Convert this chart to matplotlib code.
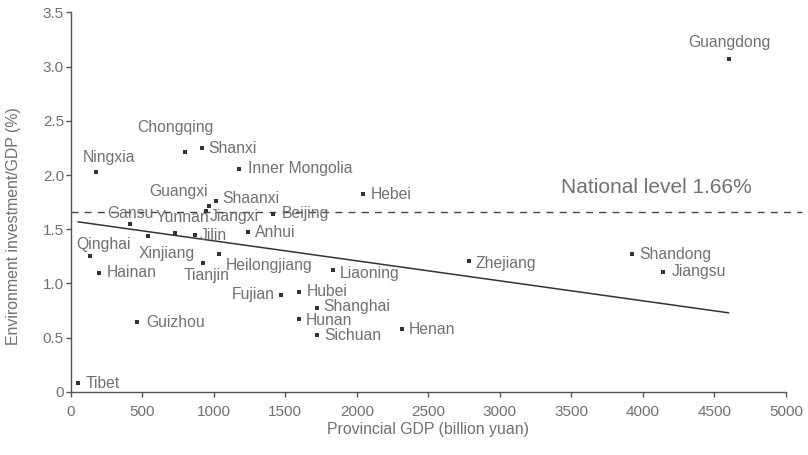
import matplotlib
matplotlib.use("Agg")
import matplotlib.pyplot as plt
from matplotlib.transforms import ScaledTranslation
from matplotlib.ticker import FuncFormatter

plt.rcParams["font.family"] = ["Liberation Sans", "DejaVu Sans"]

# Provincial GDP (billion yuan) and environment investment as % of GDP
provinces = ["Tibet", "Qinghai", "Hainan", "Ningxia", "Gansu", "Guizhou",
             "Xinjiang", "Yunnan", "Chongqing", "Jilin", "Shanxi", "Tianjin",
             "Jiangxi", "Guangxi", "Shaanxi", "Heilongjiang", "Inner Mongolia",
             "Anhui", "Beijing", "Fujian", "Hubei", "Hunan", "Shanghai",
             "Sichuan", "Liaoning", "Hebei", "Henan", "Zhejiang", "Shandong",
             "Jiangsu", "Guangdong"]
gdp = [53, 137, 200, 179, 417, 463,
       542, 731, 801, 871, 920, 927,
       948, 967, 1018, 1039, 1179,
       1241, 1416, 1470, 1598, 1598, 1720,
       1720, 1836, 2045, 2314, 2782, 3921,
       4142, 4604]
env_share = [0.08, 1.25, 1.10, 2.03, 1.55, 0.645,
             1.436, 1.467, 2.216, 1.443, 2.253, 1.188,
             1.667, 1.713, 1.765, 1.271, 2.053,
             1.471, 1.645, 0.896, 0.925, 0.669, 0.776,
             0.522, 1.121, 1.823, 0.577, 1.204, 1.268,
             1.108, 3.073]

# Linear trend endpoints
trend_gdp = [53, 4597]
trend_share = [1.568, 0.730]

national_level = 1.66
national_text = "National level 1.66%"

x_ticks = list(range(0, 5001, 500))
y_ticks = [0, 0.5, 1.0, 1.5, 2.0, 2.5, 3.0, 3.5]

# Label placement: (dx, dy) in pixels from the marker, horizontal alignment
label_place = {
    "Tibet": (7, 0, "left"), "Qinghai": (13, 12, "center"),
    "Hainan": (7, 0, "left"), "Ningxia": (13, 14, "center"),
    "Gansu": (0, 10, "center"), "Guizhou": (9, 0, "left"),
    "Xinjiang": (19, -17, "center"), "Yunnan": (7, 15, "center"),
    "Chongqing": (-10, 24, "center"), "Jilin": (4, 0, "left"),
    "Shanxi": (6, -1, "left"), "Tianjin": (3, -12, "center"),
    "Jiangxi": (3, -5, "left"), "Guangxi": (-30, 15, "center"),
    "Shaanxi": (6, 2, "left"), "Heilongjiang": (6, -11, "left"),
    "Inner Mongolia": (9, 1, "left"), "Anhui": (7, 0, "left"),
    "Beijing": (8, 0, "left"), "Fujian": (-6, 0, "right"),
    "Hubei": (7, 0, "left"), "Hunan": (6, -1, "left"),
    "Shanghai": (6, 1, "left"), "Sichuan": (7, 0, "left"),
    "Liaoning": (6, -3, "left"), "Hebei": (7, 0, "left"),
    "Henan": (7, 0, "left"), "Zhejiang": (7, -2, "left"),
    "Shandong": (8, 0, "left"), "Jiangsu": (8, 0, "left"),
    "Guangdong": (0, 16, "center"),
}

text_gray = "#707070"
axis_gray = "#555555"
mark_dark = "#333333"

fig = plt.figure(figsize=(8.08, 4.55), dpi=100)
ax = fig.add_axes([0.0875, 0.1385, 0.8853, 0.8345])

ax.plot(gdp, env_share, linestyle="none", marker="s", markersize=3.4,
        markeredgewidth=0, color=mark_dark, zorder=3)
ax.plot(trend_gdp, trend_share, color=mark_dark, linewidth=1.1, zorder=2)
ax.plot([0, 5110], [national_level, national_level], color="#444444",
        linewidth=1.0, linestyle=(0, (5, 4.5)), clip_on=False, zorder=2)
ax.text(3427, national_level, national_text, fontsize=15, color=text_gray,
        ha="left", va="center",
        transform=ax.transData + ScaledTranslation(0, 24 / 100, fig.dpi_scale_trans))

for name, x, y in zip(provinces, gdp, env_share):
    dx, dy, ha = label_place[name]
    ax.annotate(name, (x, y), xytext=(dx, dy), textcoords="offset pixels",
                ha=ha, va="center", fontsize=11.3, color=text_gray)

ax.set_xlim(0, 5000)
ax.set_ylim(0, 3.5)
ax.set_xticks(x_ticks)
ax.set_yticks(y_ticks)
ax.yaxis.set_major_formatter(FuncFormatter(lambda v, p: "0" if v == 0 else f"{v:.1f}"))

for side in ("top", "right"):
    ax.spines[side].set_visible(False)
for side in ("left", "bottom"):
    ax.spines[side].set_color(axis_gray)
    ax.spines[side].set_linewidth(1.0)

ax.tick_params(axis="both", direction="out", length=3.4, width=1.0,
               color=axis_gray, labelcolor=text_gray, labelsize=11)
ax.tick_params(axis="x", pad=6)
ax.tick_params(axis="y", pad=1.5)

ax.set_xlabel("Provincial GDP (billion yuan)", fontsize=11.4, color=text_gray)
ax.set_ylabel("Environment investment/GDP (%)", fontsize=11.4, color=text_gray)
ax.xaxis.set_label_coords(0.5, -0.1)
ax.xaxis.label.set_va("center")
ax.yaxis.set_label_coords(-0.080, 0.437)
ax.yaxis.label.set_va("center")

fig.savefig("out.png", dpi=100)
